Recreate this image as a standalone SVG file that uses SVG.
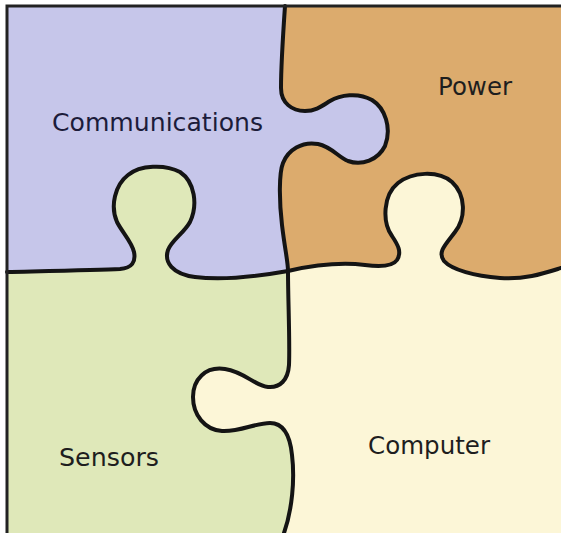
<svg xmlns="http://www.w3.org/2000/svg" width="561" height="533" viewBox="0 0 561 533">
  <style>
    .seam { fill: none; stroke: #141414; stroke-width: 4; stroke-linecap: round; stroke-linejoin: round; }
    .frame { fill: none; stroke: #222; stroke-width: 3; }
    .label { font-family: "DejaVu Sans", Verdana, sans-serif; font-size: 24px; fill: #1e1e1e; }
    .comm-label { fill: #1c1c3a; }
  </style>
  <defs>
    <!-- seam between Communications (left) and Power (right), top to centre -->
    <path id="seamA" d="M285,6 C283,35 281,65 281,88 C281,103 292,111 305,111 C316,111 322,106 330,101 C340,95 358,92 372,100 C385,108 392,128 385,146 C378,160 362,166 348,161 C338,157 332,147 318,144 C302,141 288,150 283,163 C279,173 279,200 282,225 C285,250 288,262 288,271"/>
    <!-- seam between Communications (top) and Sensors (bottom), left edge to centre -->
    <path id="seamB" d="M7,272 C50,271 100,270 120,269 C132,268 136,262 134,252 C132,242 122,232 117,222 C110,206 115,185 128,175 C140,165 165,164 180,172 C195,182 198,205 190,222 C184,233 172,240 168,250 C164,262 172,274 195,277 C225,281 260,276 288,271"/>
    <!-- seam between Power (top) and Computer (bottom), centre to right edge -->
    <path id="seamC" d="M288,271 C310,266 340,262 365,265 C380,267 393,266 397,260 C402,252 398,245 392,236 C382,222 383,195 398,183 C412,172 438,170 452,182 C466,195 466,218 455,232 C446,244 437,252 444,261 C452,270 475,276 500,278 C525,280 545,273 561,268"/>
    <!-- seam between Sensors (left) and Computer (right), centre to bottom edge -->
    <path id="seamD" d="M288,271 C288,300 290,340 289,365 C288,380 280,388 268,387 C255,386 245,372 225,369 C205,366 193,380 193,397 C193,415 205,430 222,431 C240,432 255,423 270,423 C283,423 290,435 292,455 C295,480 292,510 284,533"/>
  </defs>

  <rect x="0" y="0" width="561" height="533" fill="#ffffff"/>

  <g id="computer">
    <rect x="7" y="6" width="554" height="527" fill="#fcf6d7"/>
    <text class="label" x="368" y="454" textLength="122" lengthAdjust="spacingAndGlyphs">Computer</text>
  </g>

  <g id="communications">
    <path fill="#c6c6ea" d="M7,6 L285,6 C283,35 281,65 281,88 C281,103 292,111 305,111 C316,111 322,106 330,101 C340,95 358,92 372,100 C385,108 392,128 385,146 C378,160 362,166 348,161 C338,157 332,147 318,144 C302,141 288,150 283,163 C279,173 279,200 282,225 C285,250 288,262 288,271 L288,290 L7,330 Z"/>
    <text class="label comm-label" x="52" y="131" textLength="211" lengthAdjust="spacingAndGlyphs">Communications</text>
  </g>

  <g id="power">
    <path fill="#dcab6d" d="M285,6 C283,35 281,65 281,88 C281,103 292,111 305,111 C316,111 322,106 330,101 C340,95 358,92 372,100 C385,108 392,128 385,146 C378,160 362,166 348,161 C338,157 332,147 318,144 C302,141 288,150 283,163 C279,173 279,200 282,225 C285,250 288,262 288,271 C310,266 340,262 365,265 C380,267 393,266 397,260 C402,252 398,245 392,236 C382,222 383,195 398,183 C412,172 438,170 452,182 C466,195 466,218 455,232 C446,244 437,252 444,261 C452,270 475,276 500,278 C525,280 545,273 561,268 L561,6 Z"/>
    <text class="label" x="438" y="95" textLength="74" lengthAdjust="spacingAndGlyphs">Power</text>
  </g>

  <g id="sensors">
    <path fill="#dfe8b9" d="M7,272 C50,271 100,270 120,269 C132,268 136,262 134,252 C132,242 122,232 117,222 C110,206 115,185 128,175 C140,165 165,164 180,172 C195,182 198,205 190,222 C184,233 172,240 168,250 C164,262 172,274 195,277 C225,281 260,276 288,271 C288,300 290,340 289,365 C288,380 280,388 268,387 C255,386 245,372 225,369 C205,366 193,380 193,397 C193,415 205,430 222,431 C240,432 255,423 270,423 C283,423 290,435 292,455 C295,480 292,510 284,533 L7,533 Z"/>
    <text class="label" x="59" y="466" textLength="100" lengthAdjust="spacingAndGlyphs">Sensors</text>
  </g>

  <g id="connectors">
    <use href="#seamA" class="seam"/>
    <use href="#seamB" class="seam"/>
    <use href="#seamC" class="seam"/>
    <use href="#seamD" class="seam"/>
    <path class="frame" d="M7,533 L7,6 L561,6"/>
  </g>
</svg>
